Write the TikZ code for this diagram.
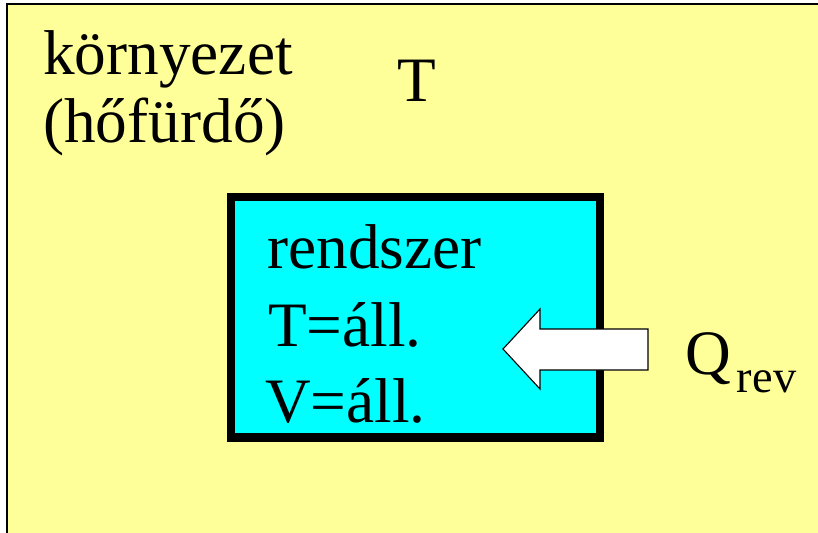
\documentclass[tikz,border=0pt]{standalone}
\usepackage{fontspec}
\setmainfont{Liberation Serif}
\definecolor{bathyellow}{RGB}{255,255,153}
\definecolor{systemcyan}{RGB}{0,255,255}
\usetikzlibrary{positioning,calc}

\begin{document}
\begin{tikzpicture}[
    txt/.style={anchor=base west, inner sep=0pt, font=\fontsize{45}{52}\selectfont}
  ]
    \useasboundingbox (0,0) rectangle (20.45,13.3);
    \clip (0,0) rectangle (20.45,13.3);

    % Environment
    \draw[fill=bathyellow, line width=0.8pt] (0.175,-1) rectangle (21.5,13.2);

    % System box
    \draw[fill=systemcyan, line width=5.7pt] (5.775,2.3625) rectangle (15.0,8.375);

    % Heat arrow
    \draw[fill=white, line width=0.8pt, line join=miter]
        (12.575,4.575) -- (13.5,5.575) -- (13.5,5.075) -- (16.2,5.075)
        -- (16.2,4.05) -- (13.5,4.05) -- (13.5,3.575) -- cycle;

    % Labels
    \node[txt] (env1) at (1.075,11.425) {környezet};
    \node[txt] (env2) at (1.075,9.725) {(hőfürdő)};
    \node[txt] (temp) at (9.925,10.75) {T};

    \node[txt] (sys1) at (6.675,6.6) {rendszer};
    \node[txt] (sys2) at (6.7,4.65) {T=áll.};
    \node[txt] (sys3) at (6.625,2.75) {V=áll.};

    \node[txt] (heat) at (17.125,3.95) {Q\kern0.15cm\raisebox{-0.45cm}{\fontsize{33}{33}\selectfont rev}};
\end{tikzpicture}
\end{document}
